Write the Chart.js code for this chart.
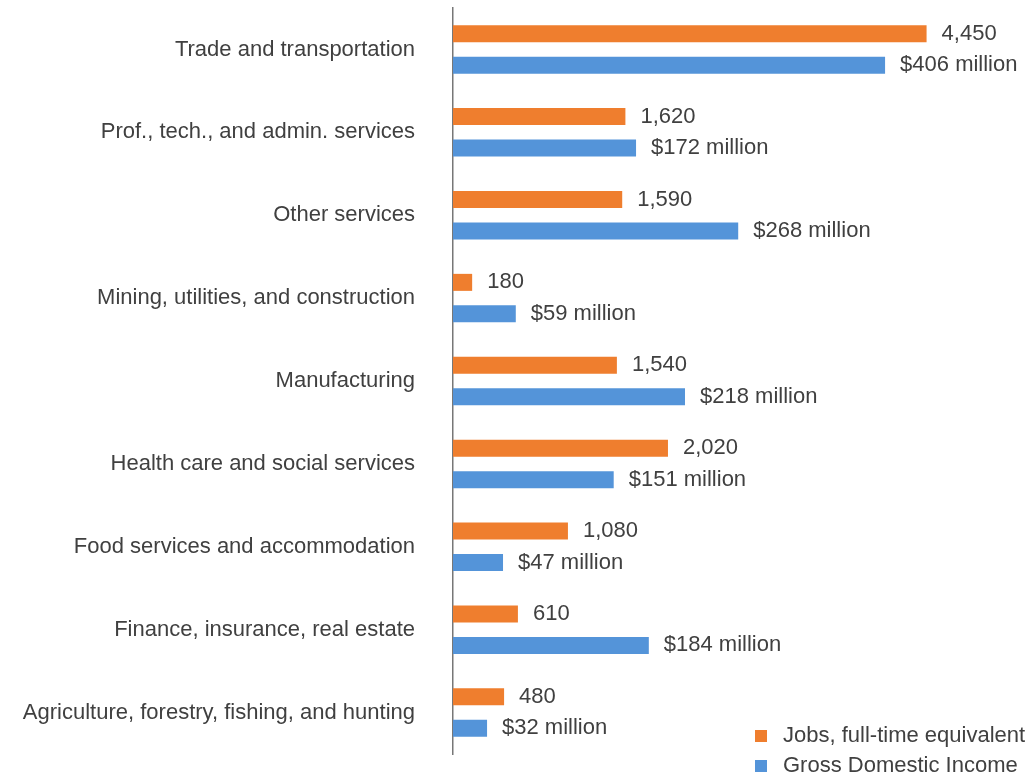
<!DOCTYPE html>
<html>
<head>
<meta charset="utf-8">
<title>Jobs and GDI by industry</title>
<script src="https://cdn.jsdelivr.net/npm/chart.js@4.4.1/dist/chart.umd.min.js"></script>
<style>
    body { margin: 0; background: #fff; }
    #wrap { position: relative; width: 1033px; height: 780px; }
</style>
</head>
<body>
<div id="wrap"><canvas id="jobsChart"></canvas></div>
<script>
// 数据
const categories = [
    'Trade and transportation',
    'Prof., tech., and admin. services',
    'Other services',
    'Mining, utilities, and construction',
    'Manufacturing',
    'Health care and social services',
    'Food services and accommodation',
    'Finance, insurance, real estate',
    'Agriculture, forestry, fishing, and hunting'
];
const jobs = [4450, 1620, 1590, 180, 1540, 2020, 1080, 610, 480];
const gdi = [406, 172, 268, 59, 218, 151, 47, 184, 32];
const seriesNames = ['Jobs, full-time equivalent', 'Gross Domestic Income'];

const orange = '#EF7E2E';
const blue = '#5494D9';
const textColor = '#404040';
const font = { family: '"Liberation Sans", Arial, sans-serif', size: 22 };

// 柱子末端的数值标签
const valueLabels = {
    id: 'valueLabels',
    afterDatasetsDraw(chart) {
        const ctx = chart.ctx;
        ctx.save();
        ctx.font = `${font.size}px ${font.family}`;
        ctx.fillStyle = textColor;
        ctx.textAlign = 'left';
        ctx.textBaseline = 'middle';
        chart.data.datasets.forEach((ds, i) => {
            chart.getDatasetMeta(i).data.forEach((bar, j) => {
                const v = ds.data[j];
                const txt = i === 0 ? v.toLocaleString('en-US') : '$' + v + ' million';
                ctx.fillText(txt, bar.x + 15, bar.y);
            });
        });
        ctx.restore();
    }
};

// 右下角图例
const cornerLegend = {
    id: 'cornerLegend',
    afterDraw(chart) {
        const ctx = chart.ctx;
        ctx.save();
        ctx.font = `${font.size}px ${font.family}`;
        ctx.textBaseline = 'middle';
        chart.data.datasets.forEach((ds, i) => {
            const y = 736 + i * 30;
            ctx.fillStyle = ds.backgroundColor;
            ctx.fillRect(755, y - 6, 12, 12);
            ctx.fillStyle = textColor;
            ctx.fillText(ds.label, 783, y);
        });
        ctx.restore();
    }
};

new Chart(document.getElementById('jobsChart'), {
    type: 'bar',
    data: {
        labels: categories,
        datasets: [{
            label: seriesNames[0],
            data: jobs,
            backgroundColor: orange,
            xAxisID: 'xJobs'
        }, {
            label: seriesNames[1],
            data: gdi,
            backgroundColor: blue,
            xAxisID: 'xGdi'
        }]
    },
    options: {
        indexAxis: 'y',
        responsive: true,
        maintainAspectRatio: false,
        animation: false,
        categoryPercentage: 0.76,
        barPercentage: 0.54,
        layout: { padding: { top: 8, bottom: 26, left: 0, right: 0 } },
        plugins: {
            legend: { display: false },
            tooltip: { enabled: false }
        },
        scales: {
            xJobs: { type: 'linear', position: 'bottom', display: false, min: 0, max: 5450 },
            xGdi: { type: 'linear', position: 'bottom', display: false, min: 0, max: 545 },
            y: {
                grid: { display: false, drawTicks: false, tickLength: 0 },
                border: { display: true, color: '#777', width: 1.5 },
                ticks: { color: textColor, font: font, padding: 38, autoSkip: false },
                afterFit(scale) {
                    // 标签右对齐在 x≈415，坐标轴线在 x=453
                    scale.width = 453;
                    scale.paddingTop = 0;
                    scale.paddingBottom = 0;
                }
            }
        }
    },
    plugins: [valueLabels, cornerLegend]
});
</script>
</body>
</html>
